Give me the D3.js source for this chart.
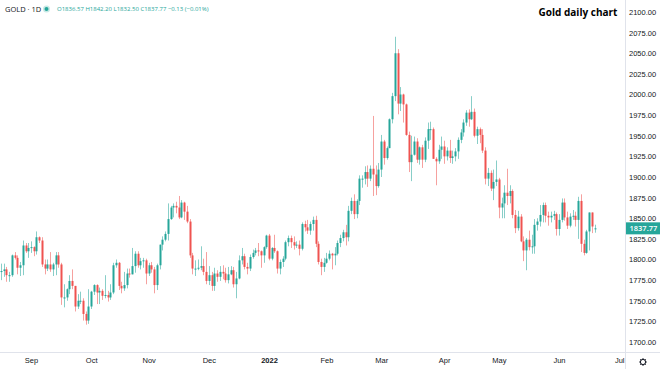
<!DOCTYPE html>
<html>
<head>
<meta charset="utf-8">
<script src="https://cdn.jsdelivr.net/npm/d3@7"></script>
<style>
  html, body { margin: 0; padding: 0; background: #fff; }
  svg { display: block; }
</style>
</head>
<body>
<script>
// daily bars, first bar 2021-08-16, weekdays only
const firstDay = new Date(2021, 7, 16);
const holidays = ["2021-12-24", "2022-04-15"];
const monthLabels = ["Sep", "Oct", "Nov", "Dec", "2022", "Feb", "Mar", "Apr", "May", "Jun", "Jul"];
const priceTicks = [1700, 1725, 1750, 1775, 1800, 1825, 1850, 1875, 1900, 1925, 1950, 1975, 2000, 2025, 2050, 2075, 2100];
const lastPrice = 1837.77;
const legendChange = "−0.13 (−0.01%)";

const open = [
  1779,1786,1786,1788,1781,1781,1805,1802,1790,1793,1817,1810, // Aug
  1814,1815,1810,1827,1823,1794,1789,1794,1788,1794,1805,1794,1754,1754,1764,1774,1768,1743,1750,1750,1734,1726, // Sep
  1743,1761,1769,1760,1762,1756,1757,1754,1760,1793,1796,1768,1765,1769,1783,1782,1792,1807,1793,1798,1799, // Oct
  1783,1793,1788,1769,1793,1818,1824,1831,1849,1863,1865,1863,1851,1869,1858,1846,1805,1789,1789,1790,1792,1785, // Nov
  1774,1781,1768,1783,1779,1785,1783,1775,1782,1787,1770,1777,1799,1804,1791,1789,1803,1808,1811,1810,1805,1815, // Dec
  1829,1801,1814,1810,1789,1797,1801,1821,1826,1821,1817,1818,1813,1843,1839,1835,1843,1848,1819,1797,1791, // Jan
  1796,1801,1807,1805,1807,1820,1826,1833,1827,1859,1871,1855,1871,1898,1898,1906,1898,1910,1903,1889, // Feb
  1909,1943,1923,1935,1970,1998,2050,1989,2000,1988,1951,1918,1927,1943,1921,1936,1921,1944,1958,1958,1922,1919,1933, // Mar
  1937,1925,1932,1923,1925,1931,1945,1954,1966,1978,1970,1979,1950,1958,1951,1932,1898,1905,1886,1894, // Apr
  1897,1863,1868,1881,1877,1883,1854,1838,1852,1822,1811,1824,1815,1816,1842,1846,1854,1866,1853,1851,1853,1855, // May
  1837,1848,1869,1851,1841,1852,1853,1848,1871,1819,1808,1834,1857,1836.57 // Jun
];
const high = [
  1788,1795,1795,1791,1785,1806,1809,1805,1797,1823,1820,1820,
  1822,1816,1834,1828,1827,1800,1800,1809,1796,1809,1809,1796,1770,1765,1781,1788,1768,1758,1761,1753,1737,1764,
  1762,1770,1770,1766,1764,1781,1762,1770,1796,1800,1797,1773,1785,1789,1789,1814,1810,1810,1802,1802,1801,
  1796,1797,1791,1795,1818,1828,1834,1868,1865,1868,1870,1877,1872,1870,1865,1849,1808,1799,1800,1816,1801,1809,
  1792,1785,1790,1787,1792,1793,1790,1791,1792,1791,1785,1805,1814,1807,1796,1806,1812,1814,1820,1811,1816,1830,
  1831,1815,1830,1811,1800,1804,1823,1829,1829,1828,1822,1823,1845,1847,1848,1846,1852,1853,1822,1801,1802,
  1808,1811,1808,1815,1823,1830,1836,1842,1865,1875,1879,1873,1902,1902,1913,1914,1914,1974,1914,1917,
  1951,1945,1937,1971,2002,2070,2055,2009,2001,1989,1955,1950,1949,1947,1937,1939,1948,1966,1967,1960,1924,1939,1949,
  1944,1936,1945,1932,1935,1948,1958,1970,1981,1982,1998,1983,1961,1960,1958,1936,1911,1908,1909,1920,
  1899,1875,1890,1910,1890,1885,1860,1859,1855,1828,1826,1835,1830,1849,1850,1866,1869,1869,1858,1858,1859,1857,
  1855,1874,1874,1858,1856,1860,1858,1876,1879,1824,1836,1857,1857,1842.20
];
const low = [
  1771,1775,1779,1773,1773,1779,1800,1782,1780,1781,1808,1802,
  1808,1804,1806,1820,1791,1782,1786,1785,1780,1781,1790,1745,1742,1750,1758,1764,1737,1740,1746,1726,1721,1722,
  1740,1757,1746,1746,1751,1753,1749,1751,1758,1790,1763,1759,1762,1765,1778,1782,1784,1790,1788,1790,1770,
  1780,1784,1759,1763,1788,1811,1822,1823,1848,1851,1856,1849,1850,1848,1844,1802,1782,1780,1787,1787,1781,1770,
  1769,1762,1762,1773,1774,1776,1772,1771,1781,1766,1753,1776,1794,1788,1782,1786,1801,1805,1804,1790,1796,1813,
  1799,1799,1808,1783,1782,1791,1799,1816,1814,1812,1814,1805,1811,1834,1831,1830,1835,1815,1794,1781,1785,
  1795,1799,1788,1793,1805,1815,1822,1817,1822,1855,1849,1850,1866,1887,1891,1888,1895,1877,1878,1887,
  1900,1915,1921,1935,1965,1992,1976,1980,1966,1950,1906,1895,1926,1917,1915,1911,1918,1934,1945,1922,1890,1916,1922,
  1916,1920,1917,1916,1919,1922,1941,1949,1962,1961,1969,1948,1940,1941,1929,1891,1889,1883,1872,1889,
  1850,1850,1850,1866,1868,1850,1832,1835,1821,1798,1787,1811,1807,1807,1835,1840,1845,1845,1841,1845,1848,1829,
  1829,1845,1847,1837,1839,1848,1840,1825,1809,1805,1807,1811,1832,1832.50
];
const close = [
  1786,1786,1788,1781,1781,1805,1802,1790,1793,1817,1810,1814,
  1815,1810,1827,1823,1794,1789,1794,1788,1794,1805,1794,1754,1754,1764,1774,1768,1743,1750,1750,1734,1726,1743,
  1761,1769,1760,1762,1756,1757,1754,1760,1793,1796,1768,1765,1769,1783,1782,1792,1807,1793,1798,1799,1783,
  1793,1788,1769,1793,1818,1824,1831,1849,1863,1865,1863,1851,1869,1858,1846,1805,1789,1789,1790,1792,1785,1774,
  1781,1768,1783,1779,1785,1783,1775,1782,1787,1770,1777,1799,1804,1791,1789,1803,1808,1811,1810,1805,1815,1829,
  1801,1814,1810,1789,1797,1801,1821,1826,1821,1817,1818,1813,1843,1839,1835,1843,1848,1819,1797,1791,1796,
  1801,1807,1805,1807,1820,1826,1833,1827,1859,1871,1855,1871,1898,1898,1906,1898,1910,1903,1889,1909,
  1943,1923,1935,1970,1998,2050,1989,2000,1988,1951,1918,1927,1943,1921,1936,1921,1944,1958,1958,1922,1919,1933,1937,
  1925,1932,1923,1925,1931,1945,1954,1966,1978,1970,1979,1950,1958,1951,1932,1898,1905,1886,1894,1897,
  1863,1868,1881,1877,1883,1854,1838,1852,1822,1811,1824,1815,1816,1842,1846,1854,1866,1853,1851,1853,1855,1837,
  1848,1869,1851,1841,1852,1853,1848,1871,1819,1808,1834,1857,1840,1837.77
];

const width = 660, height = 369;
const plotRight = 625, plotBottom = 352;
const upColor = "#26a69a", downColor = "#ef5350";
const textColor = "#131722", lineColor = "#e0e3eb";

// trading calendar (extends into the future so the Jul label has a slot)
const fmt = d3.timeFormat("%Y-%m-%d");
const calendar = d3.timeDay.range(firstDay, new Date(2022, 6, 9))
  .filter(d => d.getDay() % 6 !== 0 && !holidays.includes(fmt(d)));

const bars = close.map((c, i) => ({
  i, date: calendar[i], o: open[i], h: high[i], l: low[i], c
}));

// first bar of every month
const monthStarts = [];
calendar.forEach((d, i) => {
  if (i > 0 && d.getMonth() !== calendar[i - 1].getMonth()) monthStarts.push(i);
});
const tickIdx = monthStarts.slice(0, monthLabels.length);

const x = d3.scaleLinear()
  .domain([tickIdx[0], tickIdx[9]])
  .range([31, 559]);

const y = d3.scaleLinear()
  .domain([1700, 2100])
  .range([342, 12]);

const svg = d3.select("body").append("svg")
  .attr("width", width)
  .attr("height", height)
  .style("font-family", "'Open Sans', 'Noto Sans', sans-serif");

svg.append("rect").attr("width", width).attr("height", height).attr("fill", "#fff");

const defs = svg.append("defs");
defs.append("clipPath").attr("id", "plot")
  .append("rect").attr("x", 0).attr("y", 0).attr("width", plotRight).attr("height", plotBottom);
defs.append("clipPath").attr("id", "timeaxis")
  .append("rect").attr("x", 0).attr("y", plotBottom).attr("width", plotRight).attr("height", height - plotBottom);

// candles
const bodyW = 2;
const g = svg.append("g").attr("clip-path", "url(#plot)");

const candle = g.selectAll("g.candle")
  .data(bars)
  .join("g")
  .attr("class", "candle");

candle.append("line")
  .attr("x1", d => Math.round(x(d.i)) + 0.5)
  .attr("x2", d => Math.round(x(d.i)) + 0.5)
  .attr("y1", d => y(d.h))
  .attr("y2", d => y(d.l))
  .attr("stroke", d => d.c >= d.o ? upColor : downColor)
  .attr("stroke-opacity", 0.55)
  .attr("stroke-width", 1);

candle.append("rect")
  .attr("x", d => Math.round(x(d.i)) - 0.5)
  .attr("width", bodyW)
  .attr("y", d => y(Math.max(d.o, d.c)))
  .attr("height", d => Math.max(1, Math.abs(y(d.o) - y(d.c))))
  .attr("fill", d => d.c >= d.o ? upColor : downColor);

// separators
svg.append("line")
  .attr("x1", plotRight + 0.5).attr("x2", plotRight + 0.5)
  .attr("y1", 0).attr("y2", height)
  .attr("stroke", lineColor);
svg.append("line")
  .attr("x1", 0).attr("x2", width)
  .attr("y1", plotBottom + 0.5).attr("y2", plotBottom + 0.5)
  .attr("stroke", lineColor);

// price axis
const yAxis = svg.append("g")
  .attr("transform", `translate(${plotRight + 4},0)`)
  .call(d3.axisRight(y).tickValues(priceTicks).tickFormat(d3.format(".2f")).tickSize(0).tickPadding(0))
  .call(g => g.select(".domain").remove());
yAxis.selectAll("text")
  .attr("fill", textColor)
  .style("font-size", "7.5px");

// last price tag
const lp = svg.append("g").attr("transform", `translate(${plotRight + 1},${y(lastPrice)})`);
lp.append("rect")
  .attr("x", 0).attr("y", -6).attr("width", width - plotRight).attr("height", 12)
  .attr("fill", upColor);
lp.append("text")
  .attr("x", 3.5).attr("dy", "0.35em")
  .attr("fill", "#fff")
  .style("font-size", "7.5px")
  .style("font-weight", 600)
  .text(d3.format(".2f")(lastPrice));

// time axis
const xAxis = svg.append("g")
  .attr("clip-path", "url(#timeaxis)")
  .append("g")
  .attr("transform", `translate(0,${plotBottom + 6})`)
  .call(d3.axisBottom(x).tickValues(tickIdx).tickFormat((d, i) => monthLabels[i]).tickSize(0).tickPadding(0))
  .call(g => g.select(".domain").remove());
xAxis.selectAll("text")
  .attr("fill", textColor)
  .style("font-size", "7.5px")
  .style("font-weight", (d, i) => monthLabels[i] === "2022" ? 700 : 400);

// settings gear
const gear = svg.append("g").attr("transform", "translate(643,362)")
  .attr("stroke", textColor).attr("fill", "none");
gear.append("circle").attr("r", 2.6).attr("stroke-width", 1);
d3.range(8).forEach(k => {
  const a = k * Math.PI / 4;
  gear.append("line")
    .attr("x1", Math.cos(a) * 2.6).attr("y1", Math.sin(a) * 2.6)
    .attr("x2", Math.cos(a) * 3.8).attr("y2", Math.sin(a) * 3.8)
    .attr("stroke-width", 1.2);
});

// legend, top left
const last = bars[bars.length - 1];
svg.append("text")
  .attr("x", 5).attr("y", 11.5)
  .attr("fill", textColor)
  .style("font-size", "7.5px")
  .text("GOLD · 1D");
svg.append("circle").attr("cx", 46.5).attr("cy", 9).attr("r", 3.5).attr("fill", upColor).attr("fill-opacity", 0.25);
svg.append("circle").attr("cx", 46.5).attr("cy", 9).attr("r", 2).attr("fill", upColor);

const f2 = d3.format(".2f");
svg.append("text")
  .attr("x", 57).attr("y", 11)
  .attr("fill", upColor)
  .style("font-size", "6px")
  .text(`O${f2(last.o)} H${f2(last.h)} L${f2(last.l)} C${f2(last.c)} ${legendChange}`);

// title
svg.append("text")
  .attr("x", 578).attr("y", 16)
  .attr("text-anchor", "middle")
  .attr("fill", "#000")
  .style("font-size", "10px")
  .style("font-weight", 700)
  .text("Gold daily chart");
</script>
</body>
</html>
